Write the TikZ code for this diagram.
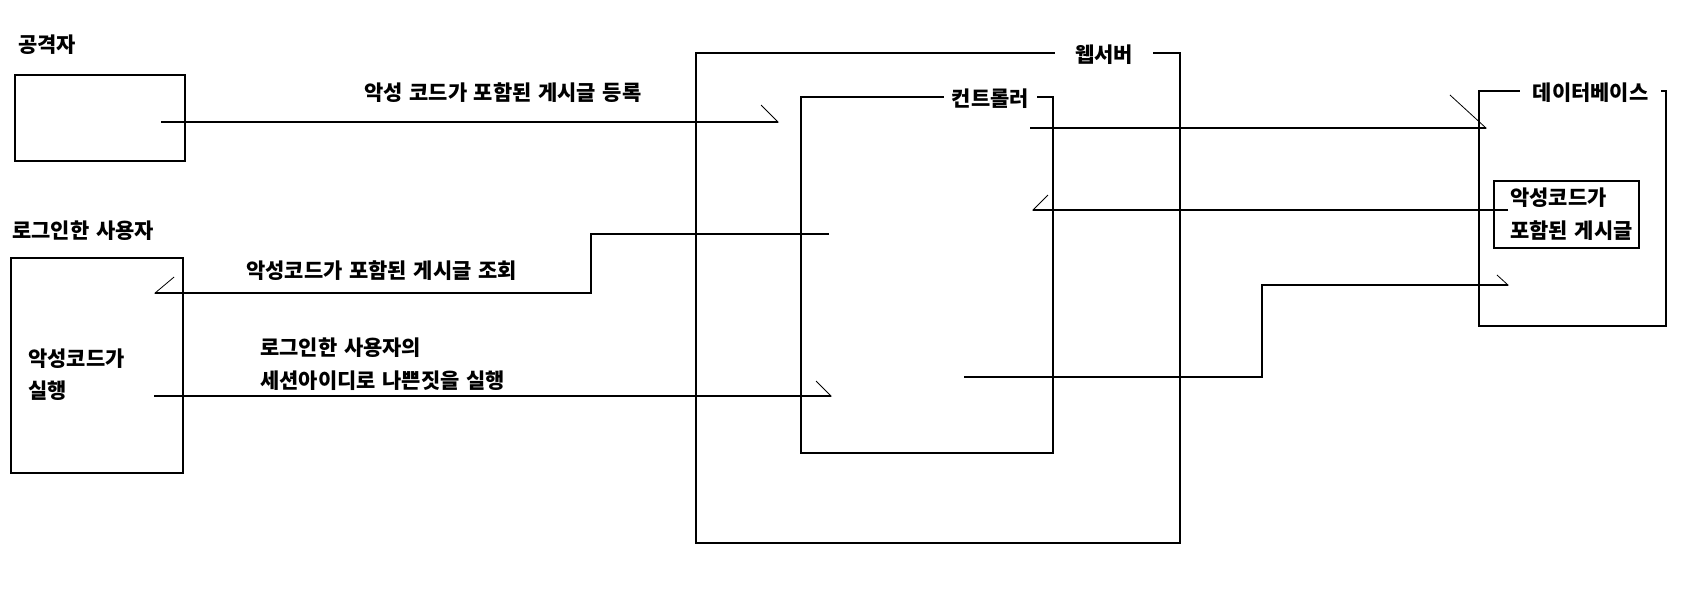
\documentclass[tikz,border=0pt]{standalone}
\usepackage{fontspec}
\setmainfont{Noto Sans CJK KR}[WordSpace=1.4]
\usetikzlibrary{arrows.meta,fit}

\tikzset{
  box/.style={draw, line width=0.9pt, inner sep=0pt},
  txt/.style={anchor=west, inner sep=0.75pt, font=\fontsize{15.7}{18}\selectfont\bfseries},
  gap/.style={fill=white, inner xsep=0pt, inner ysep=1pt, font=\fontsize{15.7}{18}\selectfont\bfseries},
  flow/.style={line width=0.9pt},
}

\begin{document}
\begin{tikzpicture}[x=0.75pt,y=0.75pt,yscale=-1,xscale=1]
\useasboundingbox (0,0) rectangle (1684,606);

%Shape: Rectangle [attacker]
\node [box, fit={(15,75) (185,161)}] (attacker) {};
%Shape: Rectangle [user]
\node [box, fit={(11,258) (183,473)}] (user) {};
%Shape: Rectangle [web server]
\node [box, fit={(696,53) (1180,543)}] (websrv) {};
%Shape: Rectangle [controller]
\node [box, fit={(801,97) (1053,453)}] (ctrl) {};
%Shape: Rectangle [database]
\node [box, fit={(1479,91) (1666,326)}] (db) {};
%Shape: Rectangle [stored post]
\node [box, fit={(1494,181) (1639,248)}] (post) {};

% Box titles cut into the top edge
\node [gap, minimum width=73.5pt] (websrvlbl) at (1104,55) {웹서버};
\node [gap, minimum width=69.75pt] (ctrllbl) at (990.5,99) {컨트롤러};
\node [gap, minimum width=105.75pt] (dblbl) at (1590.5,93) {데이터베이스};

% Connector end points
\coordinate (atkout) at (161,122);
\coordinate (ctrlin) at (779,122);
\coordinate (ctrlq) at (829,234);
\coordinate (qbend) at (591,293);
\coordinate (userin) at (154,293);
\coordinate (userout) at (154,396);
\coordinate (ctrlrun) at (832,396);
\coordinate (ctrlsave) at (1030,128);
\coordinate (dbsave) at (1487,128);
\coordinate (postout) at (1508,210);
\coordinate (ctrlget) at (1032,210);
\coordinate (ctrlx) at (964,377);
\coordinate (xbend) at (1262,285);
\coordinate (dbx) at (1509,285);

%Straight Lines [post the script]
\draw [flow, -{Straight Barb[left, length=12.75pt, width=25.5pt, line width=0.6pt]}] (atkout) -- (ctrlin);
%Straight Lines [read the post]
\draw [flow, -{Straight Barb[right, length=14.25pt, width=24pt, line width=0.6pt]}] (ctrlq) -| (qbend) -- (userin);
%Straight Lines [run with session id]
\draw [flow, -{Straight Barb[left, length=11.25pt, width=22.5pt, line width=0.6pt]}] (userout) -- (ctrlrun);
%Straight Lines [save to db]
\draw [flow, -{Straight Barb[left, length=27pt, width=49.5pt, line width=0.6pt]}] (ctrlsave) -- (dbsave);
%Straight Lines [load from db]
\draw [flow, -{Straight Barb[right, length=11.25pt, width=22.5pt, line width=0.6pt]}] (postout) -- (ctrlget);
%Straight Lines [bad request to db]
\draw [flow, -{Straight Barb[left, length=8.25pt, width=15pt, line width=0.6pt]}] (ctrlx) -| (xbend) -- (dbx);

% Text Node
\node [txt] (atklbl) at (17,45) {공격자};
% Text Node
\node [txt] (userlbl) at (11,231) {로그인한 사용자};
% Text Node
\node [txt] (userrun1) at (27,359) {악성코드가};
% Text Node
\node [txt] (userrun2) at (27,391) {실행};
% Text Node
\node [txt] (postlbl) at (363,93) {악성 코드가 포함된 게시글 등록};
% Text Node
\node [txt] (readlbl) at (245,271) {악성코드가 포함된 게시글 조회};
% Text Node
\node [txt] (runlbl1) at (259,348) {로그인한 사용자의};
% Text Node
\node [txt] (runlbl2) at (259,381) {세션아이디로 나쁜짓을 실행};
% Text Node
\node [txt] (post1) at (1509,198) {악성코드가};
% Text Node
\node [txt] (post2) at (1509,231) {포함된 게시글};

\end{tikzpicture}
\end{document}
